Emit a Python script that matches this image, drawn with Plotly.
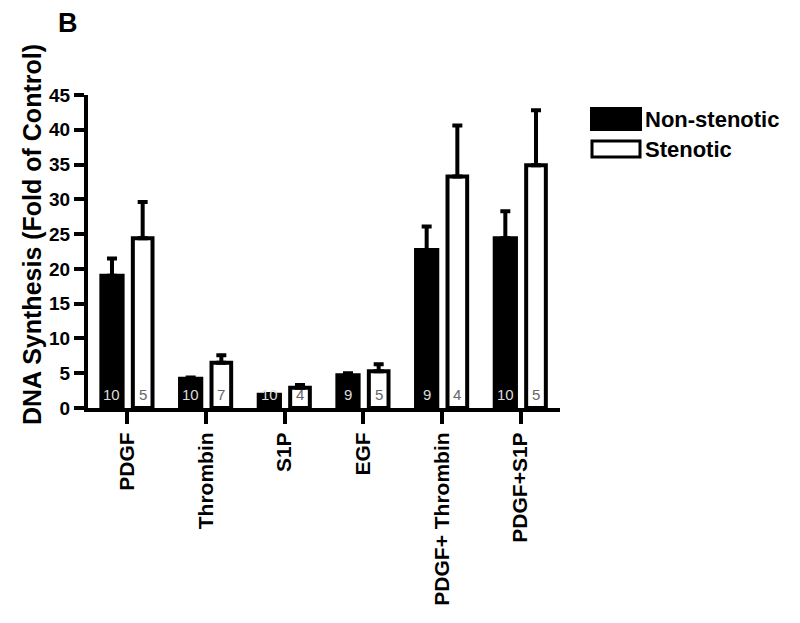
import plotly.graph_objects as go

categories = ["PDGF", "Thrombin", "S1P", "EGF", "PDGF+ Thrombin", "PDGF+S1P"]
non_stenotic = [19.0, 4.2, 1.9, 4.7, 22.7, 24.4]
non_stenotic_err = [2.5, 0.2, 0.1, 0.3, 3.4, 3.9]
stenotic = [24.4, 6.5, 2.9, 5.3, 33.3, 34.9]
stenotic_err = [5.2, 1.1, 0.4, 1.0, 7.3, 7.9]
n_non = ["10", "10", "10", "9", "9", "10"]
n_sten = ["5", "7", "4", "5", "4", "5"]
y_ticks = [0, 5, 10, 15, 20, 25, 30, 35, 40, 45]

FONT = "Liberation Sans, Arial, sans-serif"
OFF = 8  # page body margin
W, H = 800 - OFF, 623 - OFF
L, T = 88 - OFF, 95 - OFF
R = W - (560 - OFF)
B = H - (408 - OFF)
cat_px = (W - L - R) / len(categories)

off_black, w_black = -0.33, 0.27
off_white, w_white = 0.07, 0.25

fig = go.Figure()
fig.add_trace(go.Bar(
    x=categories, y=non_stenotic, name="Non-stenotic",
    offset=off_black, width=w_black,
    marker=dict(color="black", line=dict(color="black", width=4)),
    error_y=dict(type="data", array=non_stenotic_err, arrayminus=[0] * 6,
                 symmetric=False, color="black", thickness=4, width=5),
    showlegend=False,
))
fig.add_trace(go.Bar(
    x=categories, y=stenotic, name="Stenotic",
    offset=off_white, width=w_white,
    marker=dict(color="white", line=dict(color="black", width=4)),
    error_y=dict(type="data", array=stenotic_err, arrayminus=[0] * 6,
                 symmetric=False, color="black", thickness=4, width=5),
    showlegend=False,
))

# n counts at the bottom of each bar
for c, a, b in zip(categories, n_non, n_sten):
    fig.add_annotation(x=c, y=0, text=a, showarrow=False, yanchor="bottom", yshift=3,
                       xshift=(off_black + w_black / 2) * cat_px,
                       font=dict(family=FONT, size=15, color="#dcdcdc"))
    fig.add_annotation(x=c, y=0, text=b, showarrow=False, yanchor="bottom", yshift=3,
                       xshift=(off_white + w_white / 2) * cat_px,
                       font=dict(family=FONT, size=15, color="#666666"))


def px_x(p):
    return (p - OFF - L) / (W - L - R)


def px_y(p):
    return (H - B - (p - OFF)) / (H - T - B)


# legend drawn by hand
fig.add_shape(type="rect", xref="paper", yref="paper",
              x0=px_x(591), x1=px_x(641), y0=px_y(130), y1=px_y(108),
              fillcolor="black", line=dict(color="black", width=2))
fig.add_shape(type="rect", xref="paper", yref="paper",
              x0=px_x(592), x1=px_x(640), y0=px_y(157), y1=px_y(141),
              fillcolor="white", line=dict(color="black", width=3))
fig.add_annotation(xref="paper", yref="paper", x=px_x(643), y=px_y(119),
                   text="<b>Non-stenotic</b>", showarrow=False,
                   xanchor="left", yanchor="middle",
                   font=dict(family=FONT, size=22, color="black"))
fig.add_annotation(xref="paper", yref="paper", x=px_x(643), y=px_y(149),
                   text="<b>Stenotic</b>", showarrow=False,
                   xanchor="left", yanchor="middle",
                   font=dict(family=FONT, size=22, color="black"))

fig.add_annotation(xref="paper", yref="paper", x=px_x(68), y=px_y(23),
                   text="<b>B</b>", showarrow=False,
                   xanchor="center", yanchor="middle",
                   font=dict(family=FONT, size=27, color="black"))

# y axis title placed by hand (it sits a bit above the plot centre)
fig.add_annotation(xref="paper", yref="paper", x=px_x(32), y=px_y(235),
                   text="<b>DNA Synthesis (Fold of Control)</b>", showarrow=False,
                   textangle=-90, xanchor="center", yanchor="middle",
                   font=dict(family=FONT, size=25, color="black"))

fig.update_layout(
    width=W, height=H,
    margin=dict(l=L, r=R, t=T, b=B, autoexpand=False),
    plot_bgcolor="white", paper_bgcolor="white",
    barmode="overlay",
    font=dict(family=FONT, color="black"),
    xaxis=dict(
        type="category", range=[-0.5, len(categories) - 0.5],
        showline=True, linecolor="black", linewidth=4,
        ticks="outside", ticklen=12, tickwidth=4, tickcolor="black",
        tickangle=-90, tickfont=dict(family=FONT, size=21, color="black"),
        tickvals=categories, ticktext=["<b>%s</b>" % c for c in categories],
        showgrid=False, zeroline=False, automargin=False,
    ),
    yaxis=dict(
        range=[0, 45], tickvals=y_ticks,
        ticktext=["<b>%d</b>" % v for v in y_ticks],
        showline=True, linecolor="black", linewidth=4,
        ticks="outside", ticklen=10, tickwidth=4, tickcolor="black",
        tickfont=dict(family=FONT, size=19, color="black"),
        showgrid=False, zeroline=False, automargin=False,
    ),
)

fig.write_html("out.html")
